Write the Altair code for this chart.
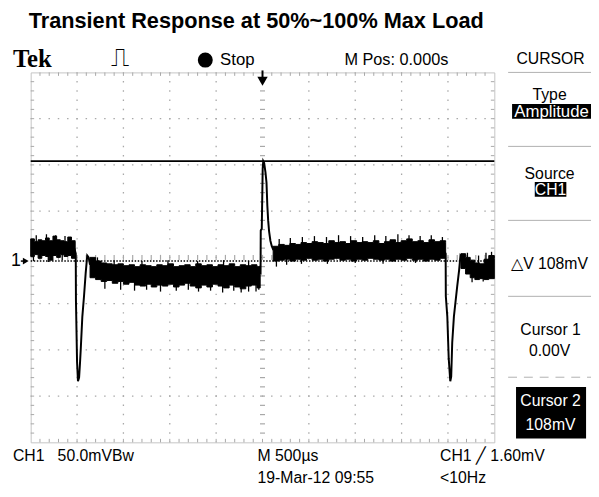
import altair as alt
import pandas as pd

# ---------- trace data: time in µs (500 µs/div), level in mV (50 mV/div) ----------
# noise envelope (upper / lower edge) of the flat parts of the trace
bandA_t   = [-2500, -2460, -2420, -2380, -2340, -2300, -2260, -2220, -2180, -2140, -2100, -2060, -2020]
bandA_top = [24, 21, 23, 22, 25, 22, 27, 23, 22, 21, 26, 22, 21]
bandA_bot = [5, 7, 3, 6, 5, 1, 6, 4, 7, 5, 6, 3, 6]

bandB_t   = [-1860, -1800, -1740, -1680, -1620, -1560, -1500, -1440, -1380, -1320,
             -1260, -1200, -1140, -1080, -1020, -960, -900, -840, -780, -720,
             -660, -600, -540, -480, -420, -360, -300, -240, -180, -120, -60, -25]
bandB_top = [4, 0, -2, -3, -4, -3, -5, -4, -6, -4, -5, -6, -4, -5, -3, -6, -5, -4, -6, -3,
             -5, -4, -6, -4, -5, -3, -6, -4, -5, -4, -6, -5]
bandB_bot = [-18, -20, -22, -21, -24, -22, -25, -23, -26, -27, -25, -28, -26, -27, -25, -28,
             -26, -24, -27, -29, -26, -28, -25, -27, -29, -26, -28, -30, -27, -26, -29, -27]

bandC_t   = [115, 175, 235, 295, 355, 415, 475, 535, 595, 655, 715, 775, 835, 895, 955, 1015,
             1075, 1135, 1195, 1255, 1315, 1375, 1435, 1495, 1555, 1615, 1675, 1735, 1795,
             1855, 1915, 1975]
bandC_top = [16, 18, 17, 19, 18, 20, 19, 21, 20, 19, 22, 20, 21, 19, 22, 20, 21, 20, 22, 19,
             21, 23, 20, 22, 24, 21, 22, 20, 23, 21, 22, 20]
bandC_bot = [0, 1, 2, 0, 2, 1, 3, 1, 2, 0, 2, 3, 1, 2, 0, 2, 1, 3, 2, 1, 2, 0, 2, 1, 3, 1,
             2, 0, 2, 1, 3, 2]

bandD_t   = [2140, 2190, 2240, 2290, 2340, 2390, 2440, 2500]
bandD_top = [8, 4, 1, -2, -3, 2, 6, 3]
bandD_bot = [-8, -14, -18, -20, -19, -20, -19, -19]

# single noise spikes sticking out of the bands (time, band middle, spike tip)
spike_t   = [-2440, -2330, -2230, -2130, -2470, -2310, -2160,
             -1780, -1600, -1300, -1020, -700, -420, -150,
             -1700, -1530, -1380, -1250, -1100, -930, -800, -690, -560, -430, -310, -230, -150, -70, -40,
             180, 300, 430, 560, 690, 820, 950, 1080, 1210, 1330, 1460, 1580, 1700, 1820, 1940,
             150, 260, 420, 700, 1000, 1300, 1650,
             2210, 2330, 2410, 2470, 2260, 2380]
spike_mid = [14] * 7 + [-15] * 7 + [-15] * 15 + [10] * 15 + [10] * 7 + [-10] * 6
spike_tip = [28, 29, 28, 27, 0, -1, 1,
             4, 1, 0, 1, 0, 1, 0,
             -30, -31, -32, -31, -33, -32, -31, -33, -32, -34, -32, -34, -33, -33, -31,
             24, 25, 26, 27, 26, 28, 27, 26, 28, 27, 29, 28, 27, 28, 26,
             -6, -4, -3, -3, -2, -3, -2,
             9, 6, 9, 10, -23, -22]

# load-step transients
drop1_t = [-2030, -2014, -2012, -2000, -1990, -1978, -1968, -1960, -1943, -1925, -1907, -1890, -1875, -1860]
drop1_v = [14, 8, -42, -109, -130, -126, -110, -95, -60, -38, -13, 6, 4, -4]
rise_t  = [-40, -21, -19, -8, 2, 8, 18, 32, 43, 52, 61, 71, 85, 100, 118]
rise_v  = [-12, -13, 33, 35, 100, 108, 106, 96, 85, 60, 44, 32, 22, 16, 12]
drop2_t = [1965, 1975, 1977, 1993, 2008, 2025, 2035, 2046, 2064, 2099, 2120, 2135, 2150]
drop2_v = [10, 8, -38, -60, -105, -130, -125, -88, -60, -28, -10, 6, 4]

cursor1_mv = 0
cursor2_mv = 108
trigger_mv = 1.6
trigger_t = 0

# screen texts
title_text = "Transient Response at 50%~100% Max Load"
hdr_texts = ["Tek", "Stop", "M Pos: 0.000s", "CURSOR"]
menu_texts = ["Type", "Amplitude", "Source", "CH1", "\u25b3V 108mV", "Cursor 1", "0.00V", "Cursor 2", "108mV"]
foot_texts = ["CH1\u00a0\u00a0 50.0mVBw", "M 500\u00b5s", "CH1 \u2571 1.60mV", "19-Mar-12 09:55", "<10Hz"]

# ---------- layout ----------
W, H = 470, 375
X0, Y0 = 31, 70            # page position of the graticule
X_DOM = [-2500, 2500]      # 10 div x 500 µs
Y_DOM = [-196, 204]        # 8 div x 50 mV
xs = alt.Scale(domain=X_DOM, nice=False, zero=False)
ys = alt.Scale(domain=Y_DOM, nice=False, zero=False)

UI = "Liberation Sans, Arial, sans-serif"
FS = 16
GRID = "#a8a8a8"
one = pd.DataFrame({"k": [0]})


def X(f="t"):
    return alt.X(f"{f}:Q", scale=xs, axis=None)


def Y(f="v"):
    return alt.Y(f"{f}:Q", scale=ys, axis=None)


def txt(s, px, py, size=FS, align="left", color="black", font=UI, weight="normal"):
    return alt.Chart(one).mark_text(text=s, fontSize=size, align=align, baseline="middle",
                                    color=color, font=font, fontWeight=weight).encode(
        x=alt.value(px - X0), y=alt.value(py - Y0))


def box(x1, x2, y1, y2, color="black"):
    return alt.Chart(one).mark_rect(color=color).encode(
        x=alt.value(x1 - X0), x2=alt.value(x2 - X0), y=alt.value(y1 - Y0), y2=alt.value(y2 - Y0))


def hline(x1, x2, py, color="#b0b0b0", dash=None):
    kw = {"strokeDash": dash} if dash else {}
    return alt.Chart(one).mark_rule(color=color, strokeWidth=1, **kw).encode(
        x=alt.value(x1 - X0), x2=alt.value(x2 - X0), y=alt.value(py - Y0))


# graticule structure
div_t = [-2000, -1500, -1000, -500, 500, 1000, 1500, 2000]
div_v = [154, 104, 54, -46, -96, -146]
center_v = 4
minor_t = [t for t in range(-2400, 2500, 100)]
minor_v = [v for v in range(194, -196, -10)]
df_div_t = pd.DataFrame({"t": div_t})
df_div_v = pd.DataFrame({"v": div_v})
df_min_t = pd.DataFrame({"t": minor_t, "a": center_v - 2.7, "b": center_v + 2.7})
df_min_v = pd.DataFrame({"v": minor_v, "a": -27, "b": 27})

layers = []
# dotted division lines
layers.append(alt.Chart(df_div_t).mark_rule(color=GRID, strokeWidth=1.3, strokeDash=[1.5, 7.875],
                                            strokeDashOffset=0.75).encode(
    x=X(), y=alt.value(0), y2=alt.value(H)))
layers.append(alt.Chart(df_div_v).mark_rule(color=GRID, strokeWidth=1.3, strokeDash=[1.5, 7.9],
                                            strokeDashOffset=0.75).encode(
    y=Y(), x=alt.value(0), x2=alt.value(W)))
# centre cross: short dashes at each minor division
layers.append(alt.Chart(df_min_v).mark_rule(color=GRID, strokeWidth=1.2).encode(
    y=Y(), x=X("a"), x2="b:Q"))
layers.append(alt.Chart(df_min_t).mark_rule(color=GRID, strokeWidth=1.2).encode(
    x=X(), y=Y("a"), y2="b:Q"))
# border ticks
layers.append(alt.Chart(df_min_t).mark_rule(color=GRID, strokeWidth=1).encode(
    x=X(), y=alt.value(0), y2=alt.value(3.5)))
layers.append(alt.Chart(df_min_t).mark_rule(color=GRID, strokeWidth=1).encode(
    x=X(), y=alt.value(H), y2=alt.value(H - 3.5)))
layers.append(alt.Chart(df_min_v).mark_rule(color=GRID, strokeWidth=1).encode(
    y=Y(), x=alt.value(0), x2=alt.value(3.5)))
layers.append(alt.Chart(df_min_v).mark_rule(color=GRID, strokeWidth=1).encode(
    y=Y(), x=alt.value(W), x2=alt.value(W - 3.5)))

# cursors
layers.append(alt.Chart(pd.DataFrame({"v": [cursor2_mv]})).mark_rule(color="black", strokeWidth=1.8).encode(
    y=Y(), x=alt.value(0), x2=alt.value(W)))
layers.append(alt.Chart(pd.DataFrame({"v": [cursor1_mv]})).mark_rule(
    color="black", strokeWidth=1.5, strokeDash=[1.5, 1.6]).encode(y=Y(), x=alt.value(0), x2=alt.value(W)))

# trace: noise bands
band_df = pd.concat([
    pd.DataFrame({"seg": "A", "t": bandA_t, "top": bandA_top, "bot": bandA_bot}),
    pd.DataFrame({"seg": "B", "t": bandB_t, "top": bandB_top, "bot": bandB_bot}),
    pd.DataFrame({"seg": "C", "t": bandC_t, "top": bandC_top, "bot": bandC_bot}),
    pd.DataFrame({"seg": "D", "t": bandD_t, "top": bandD_top, "bot": bandD_bot}),
])
layers.append(alt.Chart(band_df).mark_area(color="black", interpolate="step-after", stroke="black",
                                           strokeWidth=1).encode(
    x=X(), y=Y("top"), y2="bot:Q", detail="seg:N"))
spike_df = pd.DataFrame({"t": spike_t, "v": spike_mid, "tip": spike_tip})
layers.append(alt.Chart(spike_df).mark_rule(color="black", strokeWidth=1.3).encode(
    x=X(), y=Y(), y2="tip:Q"))

# trace: transients
tr_df = pd.concat([
    pd.DataFrame({"seg": "d1", "t": drop1_t, "v": drop1_v, "i": list(range(len(drop1_t)))}),
    pd.DataFrame({"seg": "r", "t": rise_t, "v": rise_v, "i": list(range(len(rise_t)))}),
    pd.DataFrame({"seg": "d2", "t": drop2_t, "v": drop2_v, "i": list(range(len(drop2_t)))}),
])
layers.append(alt.Chart(tr_df).mark_line(color="black", strokeWidth=2).encode(
    x=X(), y=Y(), detail="seg:N", order="i:Q"))

# markers: trigger position arrow, ground marker, trigger level
trig_df = pd.DataFrame({"t": [trigger_t]})
layers.append(alt.Chart(trig_df).mark_rule(color="black", strokeWidth=2).encode(
    x=X(), y=alt.value(-2), y2=alt.value(7)))
layers.append(alt.Chart(trig_df).mark_point(shape="triangle-down", filled=True, color="black", size=110,
                                            opacity=1).encode(x=X(), y=alt.value(9)))
gnd_df = pd.DataFrame({"v": [cursor1_mv]})
layers.append(alt.Chart(gnd_df).mark_point(shape="triangle-right", filled=True, color="black", size=45,
                                           opacity=1).encode(x=alt.value(-5), y=Y()))
layers.append(alt.Chart(gnd_df).mark_rule(color="black", strokeWidth=1.5).encode(
    x=alt.value(-10), x2=alt.value(-5), y=Y()))
layers.append(alt.Chart(gnd_df).mark_text(text="1", fontSize=18, font=UI, align="center",
                                          baseline="middle").encode(x=alt.value(16 - X0), y=Y()))
lvl_df = pd.DataFrame({"t": [2450], "v": [trigger_mv]})
layers.append(alt.Chart(lvl_df).mark_point(shape="triangle-left", filled=True, color="black", size=35,
                                           opacity=1).encode(x=X(), y=Y()))

# title
layers.append(txt(title_text, 29, 18, size=22, weight="bold"))

# header row
layers.append(txt(hdr_texts[0], 13, 57, size=25, font="Liberation Serif, Times New Roman, serif", weight="bold"))
layers.append(txt("\u238d", 122, 56, size=26, align="center", font="DejaVu Sans"))
layers.append(alt.Chart(one).mark_circle(color="black", size=230, opacity=1).encode(
    x=alt.value(208 - X0), y=alt.value(57.5 - Y0)))
layers.append(txt(hdr_texts[1], 223, 57, size=17))
layers.append(txt(hdr_texts[2], 349, 57, size=16.5))
layers.append(txt(hdr_texts[3], 558, 56, align="center"))

# right-hand menu
for py in [70, 145, 220, 297]:
    layers.append(hline(515, 599, py))
layers.append(hline(515, 599, 379, dash=[9, 7]))
layers.append(txt(menu_texts[0], 557, 93, align="center"))
layers.append(box(519, 599, 102, 117))
layers.append(txt(menu_texts[1], 559, 110, size=17, align="center", color="white"))
layers.append(txt(menu_texts[2], 557, 173, align="center"))
layers.append(box(542, 574, 181, 196))
layers.append(txt(menu_texts[3], 558, 189, align="center", color="white"))
layers.append(txt(menu_texts[4], 557, 264, align="center"))
layers.append(txt(menu_texts[5], 558, 331, align="center"))
layers.append(txt(menu_texts[6], 557, 352, align="center"))
layers.append(box(523, 594, 389, 441))
layers.append(txt(menu_texts[7], 558, 403, align="center", color="white"))
layers.append(txt(menu_texts[8], 558, 427, align="center", color="white"))

# footer
layers.append(txt(foot_texts[0], 13, 459))
layers.append(txt(foot_texts[1], 261, 459))
layers.append(txt(foot_texts[2], 446, 459))
layers.append(txt(foot_texts[3], 261, 481))
layers.append(txt(foot_texts[4], 446, 481))

chart = alt.layer(*layers).properties(
    width=W, height=H,
    padding={"left": 23, "top": 62, "right": 98, "bottom": 44},
    autosize=alt.AutoSizeParams(type="none"),
).configure_view(stroke="#c4c4c4", strokeWidth=1)

chart.save("out.html", embed_options={"renderer": "svg", "actions": False})
